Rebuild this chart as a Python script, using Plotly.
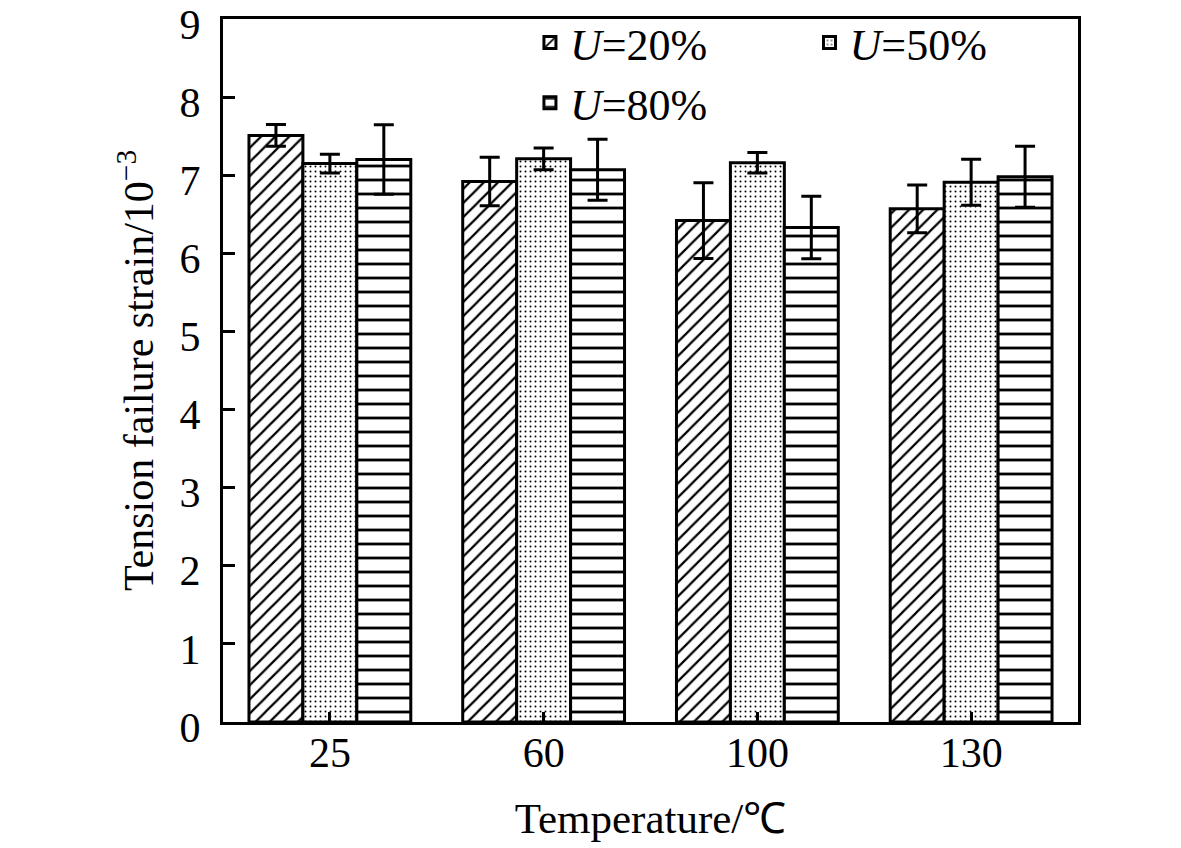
import plotly.graph_objects as go

# values
temps = ["25", "60", "100", "130"]
names = ["<i>U</i>=20%", "<i>U</i>=50%", "<i>U</i>=80%"]
u20 = [7.51, 6.92, 6.42, 6.57]
u20_err = [0.14, 0.31, 0.485, 0.305]
u50 = [7.15, 7.21, 7.16, 6.91]
u50_err = [0.12, 0.14, 0.13, 0.295]
u80 = [7.20, 7.07, 6.33, 6.98]
u80_err = [0.445, 0.39, 0.40, 0.39]
yticks = [0, 1, 2, 3, 4, 5, 6, 7, 8, 9]

FONT = "Liberation Serif"

series = [u20, u50, u80]
errs = [u20_err, u50_err, u80_err]
patterns = [
    dict(shape="/", size=10, solidity=0.22, fgcolor="black", bgcolor="white", fillmode="replace"),
    dict(shape=".", size=5, solidity=0.12, fgcolor="black", bgcolor="white", fillmode="replace"),
    dict(shape="-", size=14, solidity=0.2, fgcolor="black", bgcolor="white", fillmode="replace"),
]
# U=50% sits in a second legend so the entries form two columns
legend_ids = ["legend", "legend2", "legend"]

fig = go.Figure()
for nam, vals, err, pat, lg in zip(names, series, errs, patterns, legend_ids):
    fig.add_trace(go.Bar(
        x=temps, y=vals, name=nam, legend=lg,
        marker=dict(color="white", line=dict(color="black", width=3), pattern=pat),
        error_y=dict(type="data", array=err, visible=True, color="black", thickness=3, width=10),
    ))

leg_style = dict(
    orientation="v",
    yanchor="top", xanchor="left",
    font=dict(family=FONT, size=44),
    bgcolor="rgba(0,0,0,0)",
    tracegroupgap=0,
)

# the page body adds 8px, so left/top margins are trimmed by that
fig.update_layout(
    width=1181,
    height=848,
    barmode="group",
    bargap=0.243,
    bargroupgap=0,
    plot_bgcolor="white",
    paper_bgcolor="white",
    font=dict(family=FONT, size=42, color="black"),
    margin=dict(l=215, r=111, t=11, b=134, pad=0, autoexpand=False),
    legend=dict(x=0.359, y=1.0165, **leg_style),
    legend2=dict(x=0.686, y=1.0165, **leg_style),
)
fig.update_xaxes(
    range=[-0.5, 3.5],
    showline=True, linecolor="black", linewidth=3, mirror=True,
    ticks="inside", ticklen=10, tickwidth=2.5, tickcolor="black",
    tickfont=dict(family=FONT, size=42),
    ticklabelstandoff=-8, ticklabeloverflow="allow",
    title=dict(text="Temperature/℃", font=dict(family=FONT, size=43), standoff=28),
)
fig.update_yaxes(
    range=[0, 9.0001], tickmode="array", tickvals=yticks,
    ticksuffix="\u00a0\u00a0\u2009\u200a",
    ticklabeloverflow="allow", ticklabelstandoff=11, ticklabelshift=5,
    showline=True, linecolor="black", linewidth=3, mirror=True,
    showgrid=False, zeroline=False,
    ticks="inside", ticklen=12, tickwidth=2.5, tickcolor="black",
    tickfont=dict(family=FONT, size=42),
    title=dict(text="Tension failure strain/10<sup>−3</sup>", font=dict(family=FONT, size=42), standoff=13),
)

fig.write_html("out.html")
